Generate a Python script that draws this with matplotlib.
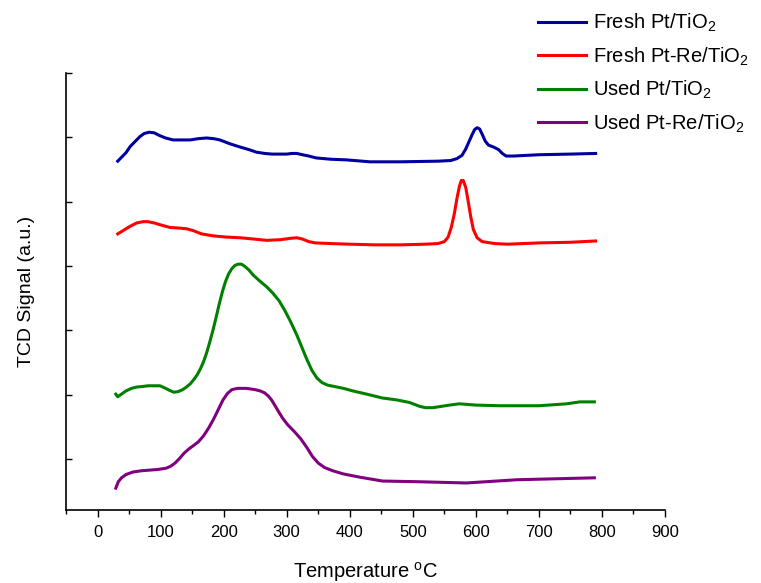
import numpy as np
import matplotlib
matplotlib.use("Agg")
import matplotlib.pyplot as plt
from matplotlib.ticker import MultipleLocator

plt.rcParams['font.family'] = ['Liberation Sans', 'DejaVu Sans']
plt.rcParams['mathtext.default'] = 'regular'

# temperature (C) / TCD signal (a.u., offset per curve)
fresh_pt_t = [32, 38, 45, 52, 60, 67, 74, 82, 90, 98, 108, 120, 135, 147, 160, 173, 184, 194,
              210, 226, 240, 252, 265, 277, 290, 300, 308, 316, 325, 335, 347, 370, 395, 432,
              480, 540, 560, 570, 578, 584, 589, 594, 598, 602, 606, 610, 615, 620, 628,
              636, 642, 648, 660, 700, 750, 790]
fresh_pt_y = [4.63, 4.69, 4.76, 4.86, 4.94, 5.01, 5.06, 5.08, 5.07, 5.03, 4.99, 4.96, 4.96,
              4.96, 4.98, 4.99, 4.98, 4.96, 4.90, 4.85, 4.81, 4.77, 4.75, 4.74, 4.74, 4.74,
              4.75, 4.75, 4.73, 4.71, 4.68, 4.66, 4.65, 4.62, 4.62, 4.63, 4.64, 4.67, 4.72,
              4.82, 4.93, 5.04, 5.12, 5.15, 5.13, 5.05, 4.94, 4.88, 4.85, 4.81, 4.75, 4.71,
              4.71, 4.73, 4.74, 4.75]

fresh_ptre_t = [32, 42, 52, 62, 72, 80, 90, 100, 115, 130, 141, 152, 165, 183, 205, 226, 248,
                268, 290, 305, 316, 325, 335, 345, 370, 400, 440, 480, 520, 540, 550, 556,
                561, 566, 570, 574, 577, 580, 584, 588, 592, 596, 602, 610, 630, 650, 700,
                750, 790]
fresh_ptre_y = [3.50, 3.56, 3.62, 3.67, 3.69, 3.69, 3.67, 3.64, 3.60, 3.59, 3.58, 3.55, 3.50,
                3.47, 3.45, 3.44, 3.42, 3.40, 3.41, 3.43, 3.44, 3.42, 3.38, 3.36, 3.35, 3.34,
                3.33, 3.33, 3.34, 3.35, 3.38, 3.45, 3.60, 3.82, 4.05, 4.24, 4.33, 4.33, 4.22,
                4.00, 3.76, 3.57, 3.44, 3.38, 3.35, 3.34, 3.36, 3.37, 3.39]

used_pt_t = [29, 32, 38, 45, 54, 62, 72, 80, 90, 99, 106, 114, 121, 128, 135, 141, 147, 153,
             158, 163, 168, 173, 178, 183, 188, 193, 198, 203, 208, 213, 218, 223, 228, 233,
             240, 247, 257, 268, 278, 288, 297, 306, 316, 324, 332, 340, 348, 356, 365, 375,
             390, 405, 427, 452, 475, 495, 511, 520, 532, 545, 558, 574, 600, 638, 700, 744,
             765, 788]
used_pt_y = [1.01, 0.97, 1.01, 1.06, 1.10, 1.12, 1.13, 1.14, 1.14, 1.14, 1.11, 1.07, 1.04,
             1.05, 1.08, 1.12, 1.17, 1.24, 1.31, 1.40, 1.51, 1.65, 1.82, 2.00, 2.20, 2.41,
             2.60, 2.76, 2.88, 2.96, 3.01, 3.03, 3.03, 3.00, 2.94, 2.86, 2.77, 2.68, 2.58,
             2.46, 2.31, 2.14, 1.93, 1.74, 1.55, 1.38, 1.26, 1.19, 1.15, 1.13, 1.10, 1.06,
             1.01, 0.95, 0.92, 0.88, 0.82, 0.80, 0.80, 0.82, 0.84, 0.86, 0.84, 0.83, 0.83,
             0.86, 0.89, 0.89]

used_ptre_t = [29, 33, 38, 45, 56, 70, 83, 96, 109, 116, 123, 130, 137, 145, 152, 160, 168,
               176, 184, 192, 199, 206, 213, 222, 236, 250, 258, 265, 271, 276, 281, 287,
               294, 302, 312, 322, 332, 341, 350, 360, 373, 390, 416, 452, 506, 585, 665, 788]
used_ptre_y = [-0.45, -0.35, -0.29, -0.24, -0.20, -0.18, -0.17, -0.16, -0.14, -0.11, -0.06,
               0.01, 0.09, 0.16, 0.21, 0.27, 0.36, 0.48, 0.62, 0.78, 0.92, 1.02, 1.08, 1.10,
               1.10, 1.08, 1.06, 1.03, 0.98, 0.92, 0.84, 0.74, 0.63, 0.53, 0.43, 0.32, 0.18,
               0.04, -0.06, -0.13, -0.18, -0.23, -0.28, -0.34, -0.35, -0.37, -0.32, -0.29]

labels = ['Fresh Pt/TiO$_2$', 'Fresh Pt-Re/TiO$_2$', 'Used Pt/TiO$_2$', 'Used Pt-Re/TiO$_2$']
colors = ['#0000A0', '#FF0000', '#008000', '#800080']

fig = plt.figure(figsize=(7.61, 5.83), dpi=100)
ax = fig.add_axes([66/761, 73/583, 599/761, 437/583])

series = [(fresh_pt_t, fresh_pt_y), (fresh_ptre_t, fresh_ptre_y),
          (used_pt_t, used_pt_y), (used_ptre_t, used_ptre_y)]
for (t, y), lab, c in zip(series, labels, colors):
    ax.plot(t, y, color=c, lw=2.2, label=lab, solid_joinstyle='round')

ax.set_xlim(-50, 900)
ax.set_ylim(-0.79, 6)
ax.xaxis.set_major_locator(MultipleLocator(100))
ax.xaxis.set_minor_locator(MultipleLocator(50))
ax.set_yticks(range(0, 7))
ax.set_yticklabels([])
ax.tick_params(axis='x', which='major', direction='out', length=5, width=1, labelsize=12, pad=6)
ax.tick_params(axis='x', which='minor', direction='out', length=3, width=1)
ax.tick_params(axis='y', direction='in', length=4, width=1)
for s in ['top', 'right']:
    ax.spines[s].set_visible(False)
for s in ['left', 'bottom']:
    ax.spines[s].set_linewidth(1.2)

ax.set_xlabel('Temperature $^{o}$C', fontsize=14.5, labelpad=14)
ax.set_ylabel('TCD Signal (a.u.)', fontsize=14, labelpad=19)

fig.legend(loc='upper right', bbox_to_anchor=(1.0, 1.0), frameon=False, fontsize=14.5,
           handlelength=2.4, handletextpad=0.35, labelspacing=0.55, borderaxespad=0.2)

fig.savefig('out.png', dpi=100)
